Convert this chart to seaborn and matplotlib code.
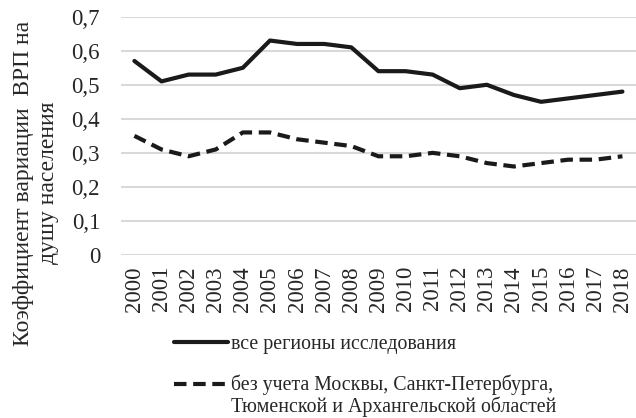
import seaborn as sns
import matplotlib.pyplot as plt
import pandas as pd

# values
years = [str(y) for y in range(2000, 2019)]
all_regions = [0.57, 0.51, 0.53, 0.53, 0.55, 0.63, 0.62, 0.62, 0.61, 0.54,
               0.54, 0.53, 0.49, 0.50, 0.47, 0.45, 0.46, 0.47, 0.48]
without_big = [0.35, 0.31, 0.29, 0.31, 0.36, 0.36, 0.34, 0.33, 0.32, 0.29,
               0.29, 0.30, 0.29, 0.27, 0.26, 0.27, 0.28, 0.28, 0.29]
y_ticks = [0, 0.1, 0.2, 0.3, 0.4, 0.5, 0.6, 0.7]
y_tick_labels = ["0", "0,1", "0,2", "0,3", "0,4", "0,5", "0,6", "0,7"]
label_all = "все регионы исследования"
label_without = "без учета Москвы, Санкт-Петербурга,"
label_without_2 = "Тюменской и Архангельской областей"
y_title = "Коэффициент вариации  ВРП на\nдушу населения"

df = pd.DataFrame({"year": years, "all": all_regions, "without": without_big})

sns.set_style("white")
plt.rcParams["font.family"] = ["Liberation Serif", "DejaVu Serif"]

fig = plt.figure(figsize=(6.36, 4.18), dpi=100)
ax = fig.add_axes([0.19, 0.39, 0.81, 0.57])

sns.lineplot(data=df, x="year", y="all", ax=ax, color="#1a1a1a", lw=3,
             label=label_all, sort=False)
sns.lineplot(data=df, x="year", y="without", ax=ax, color="#1a1a1a", lw=3,
             label=label_without, sort=False)
ax.lines[1].set_dashes([3, 1.6])

ax.set_xlim(-0.5, len(years) - 0.5)
ax.set_ylim(0, 0.7)
ax.set_yticks(y_ticks)
ax.set_yticklabels(y_tick_labels, fontsize=16.5)
ax.set_xticks(range(len(years)))
ax.set_xticklabels(years, rotation=90, fontsize=16.5)
ax.tick_params(axis="y", length=0, pad=15)
ax.tick_params(axis="x", length=0, pad=8)
ax.grid(axis="y", color="#d9d9d9", lw=1.5)
ax.set_axisbelow(True)
ax.set_xlabel("")
ax.set_ylabel("")
for s in ax.spines.values():
    s.set_visible(False)

fig.text(0.057, 1 - 183 / 418, y_title, rotation=90, ha="center", va="center",
         multialignment="center", fontsize=17, linespacing=1.23)

leg = ax.legend(loc="upper left", bbox_to_anchor=(0.2575, 0.222), bbox_transform=fig.transFigure,
                frameon=False, fontsize=14.3, handlelength=2.75, handletextpad=0.12,
                labelspacing=1.05, borderpad=0)

# second line of the dashed series label sits under the first one
fig.canvas.draw()
bb = leg.get_texts()[1].get_window_extent().transformed(fig.transFigure.inverted())
fig.text(bb.x0, 1 - 407 / 418, label_without_2, fontsize=14.3, va="center", ha="left")

fig.savefig("out.png", dpi=100)
